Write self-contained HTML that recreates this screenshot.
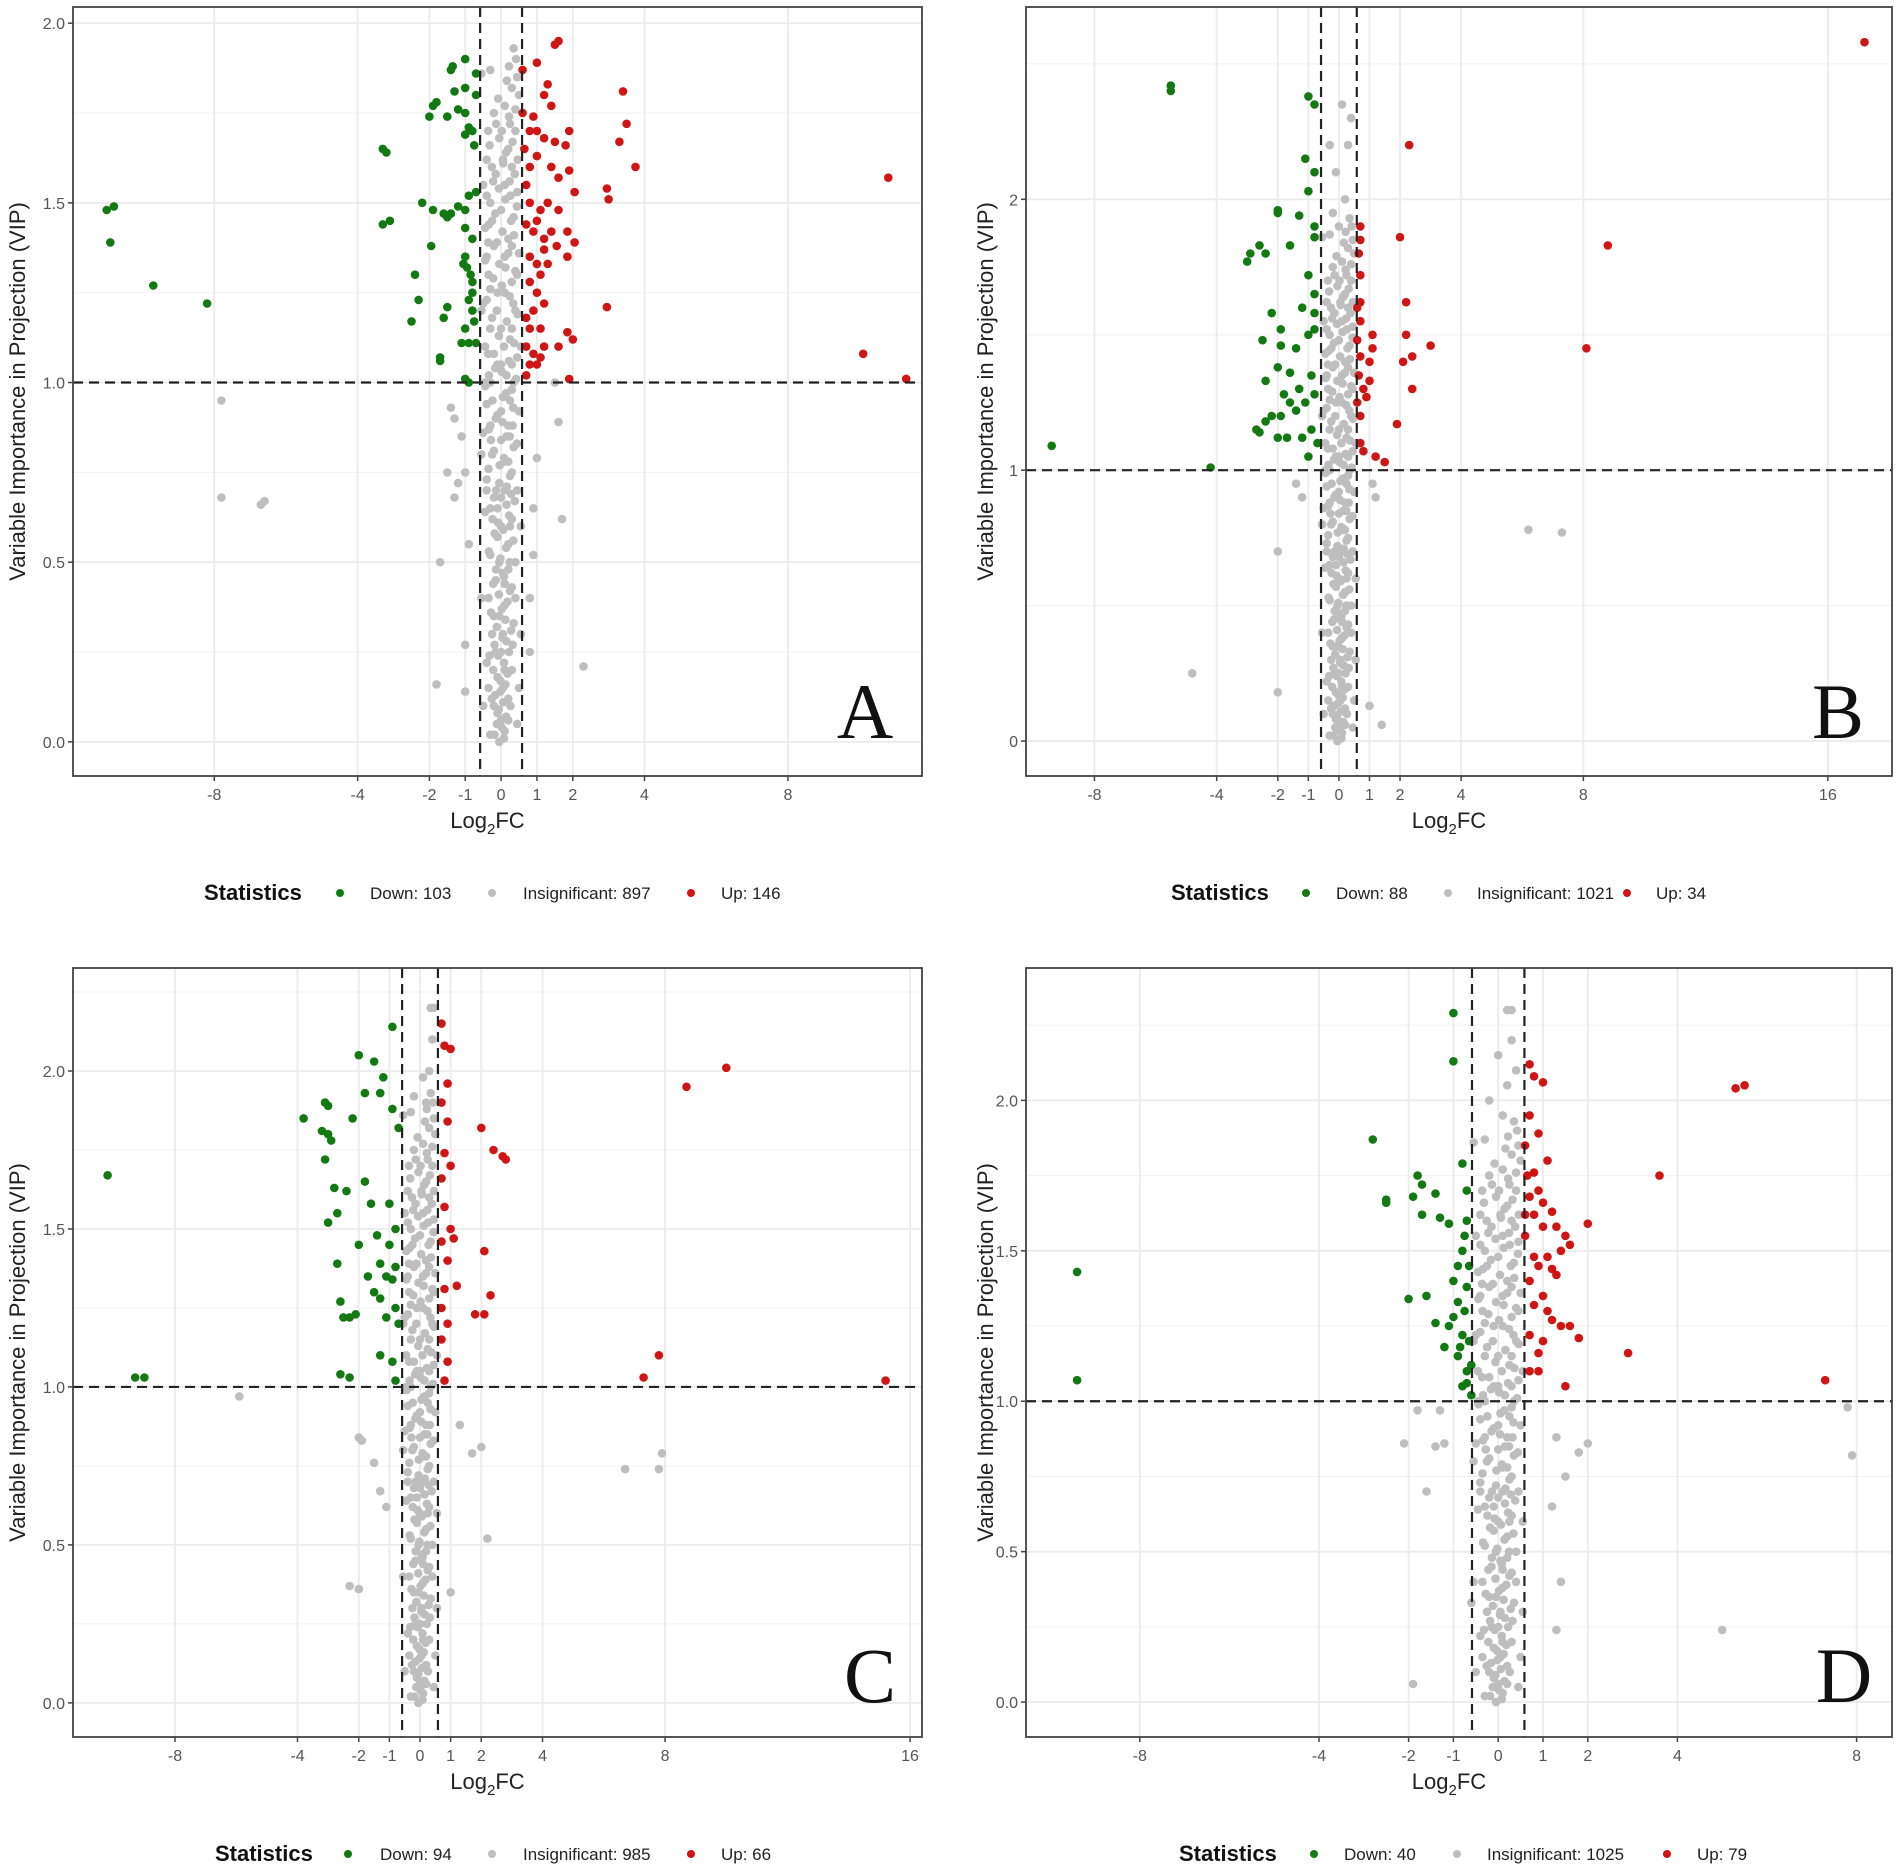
<!DOCTYPE html>
<html><head><meta charset="utf-8">
<style>
html,body{margin:0;padding:0;background:#fff;}
svg{display:block;font-family:"Liberation Sans",Arial,sans-serif;}
</style></head>
<body>
<svg id="fig" width="1902" height="1870" viewBox="0 0 1902 1870" xmlns="http://www.w3.org/2000/svg"></svg>
<script>
// ---- data (Log2FC, VIP) ----
const coreA = [-0.3,0.02,0.1,0.03,0.0,0.06,-0.2,0.1,0.2,0.12,0.05,0.15,-0.1,0.18,0.3,0.2,-0.4,0.22,0.0,0.25,0.15,0.28,-0.25,0.3,0.35,0.33,-0.05,0.35,0.1,0.38,-0.35,0.4,0.25,0.42,-0.15,0.45,0.05,0.47,0.4,0.5,-0.3,0.52,0.2,0.55,-0.1,0.57,0.0,0.6,0.3,0.62,-0.45,0.64,0.15,0.66,-0.2,0.68,0.45,0.7,-0.05,0.72,0.25,0.74,-0.35,0.76,0.1,0.78,-0.25,0.8,0.35,0.82,0.0,0.84,-0.5,0.86,0.2,0.88,-0.15,0.9,0.5,0.92,-0.4,0.94,0.05,0.96,0.3,0.98,-0.3,1.0,0.15,1.02,-0.1,1.05,0.45,1.07,-0.45,1.1,0.25,1.12,0.0,1.15,-0.25,1.18,0.4,1.2,-0.5,1.22,0.1,1.25,0.3,1.28,-0.35,1.3,-0.05,1.33,0.5,1.36,-0.2,1.38,0.2,1.4,-0.45,1.43,0.35,1.46,0.0,1.48,-0.3,1.5,0.45,1.53,0.1,1.55,-0.15,1.58,0.3,1.6,-0.4,1.62,0.2,1.65,-0.05,1.68,0.4,1.7,0.1,1.77,0.5,1.8,0.35,1.93,-0.55,1.86,0.45,1.85,-0.5,1.55,-0.55,1.2,0.55,1.1,-0.55,0.8,0.55,0.6,-0.55,0.4,0.55,0.3,0.5,0.15,-0.5,0.1,0.45,0.05,-0.1,0.08,0.1,0.2,-0.2,0.35,0.2,0.48,-0.1,0.65,0.1,0.7,-0.3,0.88,0.25,0.95,-0.2,1.08,0.1,1.35,-0.25,1.45,0.0,1.05,0.15,0.85,-0.05,0.5,0.05,0.3,-0.15,0.25,0.25,0.6,-0.4,0.7,0.4,0.4,-0.35,0.15,0.35,1.0,-0.1,1.25,0.3,1.15,-0.4,1.35,0.05,1.62,-0.2,1.75,0.25,1.72,-0.45,1.0,0.45,1.3,0.0,0.92,0.2,0.78];
const coreFill = [-0.05,0.0,0.08,0.01,0.02,0.04,-0.12,0.05,0.14,0.07,-0.06,0.09,0.06,0.11,-0.16,0.13,0.12,0.16,-0.02,0.17,0.18,0.19,-0.22,0.2,0.08,0.22,-0.08,0.24,0.22,0.25,-0.18,0.27,0.04,0.29,0.28,0.31,-0.12,0.32,0.12,0.34,-0.28,0.36,0.02,0.37,0.18,0.39,-0.06,0.41,0.3,0.43,-0.22,0.44,0.08,0.46,-0.14,0.48,0.24,0.5,-0.02,0.51,-0.34,0.53,0.14,0.54,0.34,0.56,-0.18,0.58,0.06,0.59,-0.08,0.61,0.22,0.63,-0.3,0.65,0.38,0.67,0.0,0.68,-0.14,0.7,0.16,0.71,-0.4,0.73,0.3,0.75,-0.04,0.77,0.08,0.79,-0.2,0.81,0.44,0.83,0.24,0.85,-0.34,0.87,0.04,0.89,-0.1,0.91,0.34,0.93,-0.24,0.95,0.14,0.97,-0.44,0.99,0.42,1.01,0.02,1.03,-0.16,1.04,0.22,1.06,-0.36,1.08,0.08,1.1,0.36,1.11,-0.06,1.13,-0.3,1.15,0.16,1.17,0.46,1.19,-0.12,1.2,-0.4,1.23,0.24,1.24,0.02,1.27,-0.22,1.29,0.4,1.31,0.12,1.32,-0.44,1.34,0.2,1.36,-0.12,1.39,0.36,1.41,0.04,1.42,-0.34,1.44,0.28,1.45,-0.16,1.47,0.44,1.49,0.12,1.51,-0.4,1.52,-0.06,1.54,0.24,1.56,0.38,1.58,-0.26,1.6,0.06,1.61,0.14,1.64,-0.32,1.66,0.32,1.67,0.02,1.7,-0.14,1.72,0.22,1.74,0.4,1.76,-0.08,1.79,0.3,1.82,0.16,1.84,-0.3,1.87,0.42,1.9,0.22,1.88,-0.18,0.02,0.2,0.06,0.26,0.1,-0.26,0.12,-0.02,0.14,0.32,0.27,-0.32,0.24,0.1,0.44,-0.24,0.62,0.28,0.69,-0.28,0.84,0.32,0.88,-0.34,1.02,0.3,1.05,-0.3,1.26,0.34,1.22,-0.36,1.39,0.3,1.38,-0.22,1.56,0.26,1.52,-0.36,1.7,0.46,1.62];
const coreTopB = [0.0,1.9,0.2,2.0,-0.1,2.1,0.3,2.2,0.4,2.3,-0.3,2.2,0.1,2.35,-0.2,1.95];
const coreTopC = [0.2,1.9,0.3,2.0,0.4,2.1,0.45,2.2,0.35,2.2,-0.2,1.92,0.1,1.98];
const coreTopD = [0.1,1.95,0.2,2.05,0.3,2.2,0.2,2.3,0.3,2.3,-0.2,2.0,0.0,2.15,0.4,2.1];

const greyA = coreA.concat(coreFill,[-7.8,0.95,-7.8,0.68,-6.7,0.66,-6.6,0.67,-1.7,0.5,-1.8,0.16,-1.0,0.14,-1.0,0.27,-1.5,0.75,-1.4,0.93,-1.3,0.9,-1.1,0.85,-1.3,0.68,-1.2,0.72,1.6,0.89,1.5,1.0,1.7,0.62,2.3,0.21,0.9,0.52,0.8,0.25,1.0,0.79,0.9,0.65,0.8,0.4,-0.9,0.55,-1.0,0.75]);
const downA = [-11.0,1.48,-10.8,1.49,-10.9,1.39,-9.7,1.27,-8.2,1.22,-3.3,1.65,-3.2,1.64,-3.3,1.44,-3.1,1.45,-2.2,1.5,-1.9,1.48,-2.4,1.3,-2.3,1.23,-2.5,1.17,-1.95,1.38,-1.7,1.06,-1.7,1.07,-1.5,1.21,-1.6,1.18,-1.1,1.11,-1.0,1.15,-1.0,1.01,-0.9,1.0,-2.0,1.74,-1.9,1.77,-1.8,1.78,-1.3,1.81,-1.0,1.82,-1.2,1.76,-1.0,1.75,-1.4,1.87,-1.35,1.88,-1.0,1.9,-1.5,1.74,-1.0,1.69,-0.9,1.71,-0.8,1.7,-0.75,1.66,-0.7,1.86,-0.7,1.8,-1.5,1.46,-1.4,1.47,-1.2,1.49,-1.0,1.48,-0.9,1.52,-0.7,1.53,-1.0,1.43,-0.8,1.4,-1.0,1.35,-0.95,1.32,-0.85,1.3,-1.05,1.33,-0.8,1.25,-0.8,1.2,-0.75,1.17,-0.9,1.11,-0.7,1.11,-0.8,1.28,-0.9,1.23,-1.6,1.47];
const upA = [0.7,1.02,0.8,1.05,1.0,1.05,1.1,1.07,1.2,1.1,1.6,1.1,1.85,1.14,2.0,1.12,1.9,1.01,2.95,1.21,3.0,1.51,2.95,1.54,3.3,1.67,3.4,1.81,3.5,1.72,3.75,1.6,1.5,1.94,1.6,1.95,1.0,1.89,0.6,1.87,1.2,1.8,1.3,1.83,1.4,1.77,0.9,1.74,0.8,1.7,1.0,1.7,1.2,1.68,1.5,1.67,1.9,1.7,1.8,1.66,2.05,1.53,1.9,1.59,1.6,1.57,1.4,1.6,1.0,1.63,0.8,1.6,0.7,1.55,0.8,1.5,1.1,1.48,1.3,1.5,1.6,1.48,1.0,1.45,0.7,1.44,0.9,1.42,1.2,1.4,1.4,1.42,1.85,1.42,2.05,1.39,1.55,1.38,1.2,1.37,0.8,1.35,1.0,1.33,1.3,1.33,1.85,1.35,1.1,1.3,0.8,1.28,1.0,1.25,1.2,1.22,0.9,1.2,0.7,1.18,0.8,1.15,1.1,1.15,0.7,1.1,0.9,1.08,10.1,1.08,10.8,1.57,11.3,1.01,0.6,1.75,0.65,1.65];

const greyB = coreA.concat(coreFill,coreTopB,[-4.8,0.25,-2.0,0.18,-2.0,0.7,6.2,0.78,7.3,0.77,1.4,0.06,1.0,0.13,-1.2,0.9,-1.4,0.95,1.1,0.95,1.2,0.9]);
const downB = [-5.5,2.42,-5.5,2.4,-9.4,1.09,-4.2,1.01,-1.0,2.38,-0.8,2.35,-1.1,2.15,-0.8,2.1,-1.0,2.03,-2.0,1.96,-2.0,1.95,-1.3,1.94,-0.8,1.9,-2.9,1.8,-2.6,1.83,-3.0,1.77,-2.4,1.8,-1.6,1.83,-0.8,1.86,-1.0,1.72,-0.8,1.65,-1.2,1.6,-0.8,1.58,-2.2,1.58,-1.9,1.52,-2.5,1.48,-1.9,1.46,-1.4,1.45,-1.0,1.5,-0.8,1.52,-2.0,1.38,-1.6,1.36,-2.4,1.33,-1.8,1.28,-1.3,1.3,-0.9,1.35,-1.9,1.2,-2.6,1.14,-2.4,1.18,-2.2,1.2,-1.6,1.25,-1.4,1.22,-1.1,1.25,-0.8,1.28,-2.0,1.12,-1.7,1.12,-1.2,1.12,-0.9,1.15,-0.7,1.1,-1.0,1.05,-2.7,1.15];
const upB = [17.2,2.58,2.3,2.2,8.8,1.83,8.1,1.45,2.0,1.86,2.2,1.62,2.2,1.5,2.1,1.4,2.4,1.42,3.0,1.46,2.4,1.3,1.1,1.5,1.1,1.45,1.0,1.4,1.9,1.17,0.7,1.9,0.7,1.85,0.7,1.72,0.65,1.8,0.7,1.62,0.6,1.6,0.7,1.55,0.6,1.48,0.7,1.42,0.8,1.3,1.0,1.33,0.6,1.25,0.7,1.2,1.5,1.03,1.2,1.05,0.8,1.07,0.7,1.1,0.9,1.27,0.65,1.35];

const greyC = coreA.concat(coreFill,coreTopC,[-5.9,0.97,-2.0,0.84,-1.9,0.83,-2.3,0.37,-2.0,0.36,-1.5,0.76,-1.3,0.67,-1.1,0.62,6.7,0.74,7.9,0.79,7.8,0.74,1.7,0.79,2.0,0.81,2.2,0.52,1.3,0.88,1.0,0.35]);
const downC = [-10.2,1.67,-9.3,1.03,-9.0,1.03,-3.8,1.85,-3.1,1.9,-3.0,1.89,-3.2,1.81,-3.0,1.8,-2.9,1.78,-3.1,1.72,-2.8,1.63,-2.7,1.55,-3.0,1.52,-2.4,1.62,-2.0,2.05,-1.5,2.03,-0.9,2.14,-1.2,1.98,-1.8,1.93,-1.3,1.93,-0.9,1.88,-0.7,1.82,-2.2,1.85,-1.8,1.65,-1.6,1.58,-1.0,1.58,-1.4,1.48,-1.0,1.45,-0.8,1.5,-0.8,1.38,-0.9,1.34,-1.3,1.39,-2.7,1.39,-2.6,1.27,-2.5,1.22,-2.3,1.22,-2.1,1.23,-1.7,1.35,-1.5,1.3,-1.3,1.28,-1.1,1.22,-0.8,1.25,-0.7,1.2,-1.3,1.1,-0.9,1.08,-2.6,1.04,-2.3,1.03,-0.8,1.02,-1.1,1.35,-2.0,1.45];
const upC = [10.0,2.01,8.7,1.95,15.2,1.02,7.8,1.1,7.3,1.03,2.0,1.82,2.4,1.75,2.7,1.73,2.8,1.72,2.1,1.43,2.3,1.29,1.8,1.23,2.1,1.23,0.7,2.15,0.8,2.08,1.0,2.07,0.9,1.96,0.7,1.9,0.9,1.84,0.8,1.74,1.0,1.7,0.7,1.66,0.8,1.57,1.0,1.5,0.7,1.46,0.9,1.4,1.2,1.32,0.8,1.31,0.7,1.25,0.9,1.2,0.7,1.15,0.9,1.08,0.8,1.02,1.1,1.47];

const greyD = coreA.concat(coreFill,coreTopD,[-2.1,0.86,-1.4,0.85,-1.6,0.7,-1.2,0.86,-1.8,0.97,-1.3,0.97,-1.9,0.06,-0.6,0.33,1.3,0.24,1.8,0.83,2.0,0.86,1.3,0.88,1.5,0.75,1.2,0.65,1.4,0.4,5.0,0.24,7.9,0.82,7.8,0.98]);
const downD = [-9.4,1.43,-9.4,1.07,-2.8,1.87,-2.5,1.67,-2.5,1.66,-1.0,2.29,-1.0,2.13,-0.8,1.79,-1.8,1.75,-1.7,1.72,-1.9,1.68,-1.7,1.62,-1.4,1.69,-1.3,1.61,-1.1,1.59,-0.7,1.6,-0.8,1.5,-0.9,1.45,-2.0,1.34,-1.6,1.35,-1.4,1.26,-1.0,1.28,-1.2,1.18,-0.9,1.15,-0.7,1.1,-0.8,1.05,-0.65,1.2,-0.7,1.38,-0.75,1.3,-0.8,1.22,-0.6,1.02,-0.7,1.7,-0.9,1.33,-1.1,1.25,-0.65,1.45,-1.0,1.4,-0.6,1.12,-0.75,1.55,-0.85,1.18,-0.7,1.06];
const upD = [5.3,2.04,5.5,2.05,3.6,1.75,7.3,1.07,2.9,1.16,2.0,1.59,1.8,1.21,1.6,1.25,1.4,1.25,1.2,1.27,1.0,1.2,0.9,1.1,1.5,1.05,0.7,2.12,0.8,2.08,1.0,2.06,0.7,1.95,0.9,1.89,1.1,1.8,0.8,1.76,0.9,1.7,0.7,1.68,1.0,1.66,1.2,1.63,1.3,1.58,1.5,1.55,1.6,1.52,1.4,1.5,1.1,1.48,0.8,1.48,0.9,1.45,1.2,1.44,0.7,1.4,1.0,1.35,0.8,1.32,1.1,1.3,0.7,1.22,0.9,1.16,0.7,1.1,1.3,1.42,0.6,1.55,0.6,1.62,0.65,1.75,0.6,1.85,1.0,1.58,0.8,1.62];

const xTicksA = [-8,-4,-2,-1,0,1,2,4,8];
const xTicksB = [-8,-4,-2,-1,0,1,2,4,8,16];
const xTicksC = [-8,-4,-2,-1,0,1,2,4,8,16];
const xTicksD = [-8,-4,-2,-1,0,1,2,4,8];
const yTicksA = ["0.0","0.5","1.0","1.5","2.0"];
const yTicksB = ["0","1","2"];
const yTicksC = ["0.0","0.5","1.0","1.5","2.0"];
const yTicksD = ["0.0","0.5","1.0","1.5","2.0"];
const legendA = ["Down: 103","Insignificant: 897","Up: 146"];
const legendB = ["Down: 88","Insignificant: 1021","Up: 34"];
const legendC = ["Down: 94","Insignificant: 985","Up: 66"];
const legendD = ["Down: 40","Insignificant: 1025","Up: 79"];
const fcCut = 0.585, vipCut = 1.0;

// ---- layout ----
const NS = "http://www.w3.org/2000/svg";
const svg = document.getElementById('fig');
function mk(tag, attrs, parent){ const e=document.createElementNS(NS,tag); for(const k in attrs) e.setAttribute(k,attrs[k]); (parent||svg).appendChild(e); return e; }

const panels = [
 {id:'a', L:73, R:922, T:7, B:776, xd:[-11.94,11.74], yd:[-0.095,2.045], grey:greyA, down:downA, up:upA, xt:xTicksA, yt:yTicksA, leg:legendA, letter:'A', lx:865, ly:738, legY:892, legX:[204,340,370,492,523,691,721], ytx:17},
 {id:'b', L:1026, R:1892, T:7, B:776, xd:[-10.24,18.1], yd:[-0.129,2.71], grey:greyB, down:downB, up:upB, xt:xTicksB, yt:yTicksB, leg:legendB, letter:'B', lx:1838, ly:738, legY:892, legX:[1171,1306,1336,1448,1477,1627,1656], ytx:985},
 {id:'c', L:73, R:922, T:968, B:1737, xd:[-11.33,16.39], yd:[-0.108,2.326], grey:greyC, down:downC, up:upC, xt:xTicksC, yt:yTicksC, leg:legendC, letter:'C', lx:870, ly:1702, legY:1853, legX:[215,348,380,492,523,691,721], ytx:17},
 {id:'d', L:1026, R:1892, T:968, B:1737, xd:[-10.54,8.79], yd:[-0.116,2.44], grey:greyD, down:downD, up:upD, xt:xTicksD, yt:yTicksD, leg:legendD, letter:'D', lx:1844, ly:1702, legY:1853, legX:[1179,1314,1344,1457,1487,1667,1697], ytx:985}
];

panels.forEach(p=>{
  const sx = v => p.L + (v-p.xd[0])/(p.xd[1]-p.xd[0])*(p.R-p.L);
  const sy = v => p.B - (v-p.yd[0])/(p.yd[1]-p.yd[0])*(p.B-p.T);
  const g = mk('g',{});
  
  
  const clipId='clip'+p.id;
  const cp = mk('clipPath',{id:clipId},g); mk('rect',{x:p.L,y:p.T,width:p.R-p.L,height:p.B-p.T},cp);
  const grid = mk('g',{},g);
  
  
  const yv = p.yt.map(Number);
  for(let i=0;i<yv.length-1;i++){ const m=(yv[i]+yv[i+1])/2; mk('line',{x1:p.L,x2:p.R,y1:sy(m),y2:sy(m),stroke:'#f3f3f3','stroke-width':1.2},grid); }
  if(sy(yv[yv.length-1]+(yv[1]-yv[0])/2) > p.T) { const m=yv[yv.length-1]+(yv[1]-yv[0])/2; mk('line',{x1:p.L,x2:p.R,y1:sy(m),y2:sy(m),stroke:'#f3f3f3','stroke-width':1.2},grid); }
  yv.forEach(v=>mk('line',{x1:p.L,x2:p.R,y1:sy(v),y2:sy(v),stroke:'#ebebeb','stroke-width':1.8},grid));
  p.xt.forEach(v=>mk('line',{x1:sx(v),x2:sx(v),y1:p.T,y2:p.B,stroke:'#ebebeb','stroke-width':1.8},grid));

  const pts = mk('g',{'clip-path':'url(#'+clipId+')'},g);
  const draw=(arr,col,name)=>{
    const sg = mk('g',{fill:col},pts);
    
    
    for(let i=0;i<arr.length;i+=2){
      const c = mk('circle',{cx:sx(arr[i]).toFixed(1),cy:sy(arr[i+1]).toFixed(1),r:4.3},sg);
      
      
    }
  };
  draw(p.grey,'#bebebe','insignificant');
  draw(p.down,'#137a13','down');
  draw(p.up,'#d01515','up');

  const th = mk('g',{stroke:'#222','stroke-width':2.2,'stroke-dasharray':'10,6',fill:'none'},g);
  
  
  mk('line',{x1:p.L,x2:p.R,y1:sy(vipCut),y2:sy(vipCut)},th);
  mk('line',{x1:sx(-fcCut),x2:sx(-fcCut),y1:p.T,y2:p.B},th);
  mk('line',{x1:sx(fcCut),x2:sx(fcCut),y1:p.T,y2:p.B},th);

  const bd = mk('rect',{x:p.L,y:p.T,width:p.R-p.L,height:p.B-p.T,fill:'none',stroke:'#444','stroke-width':1.8},g);
  
  

  p.xt.forEach(v=>{
    mk('line',{x1:sx(v),x2:sx(v),y1:p.B,y2:p.B+5,stroke:'#444','stroke-width':1.5},g);
    const t = mk('text',{x:sx(v),y:p.B+24,'text-anchor':'middle','font-size':16,fill:'#555'},g);
    t.textContent = v;  
  });
  p.yt.forEach(s=>{
    const v=Number(s);
    mk('line',{x1:p.L-5,x2:p.L,y1:sy(v),y2:sy(v),stroke:'#444','stroke-width':1.5},g);
    const t = mk('text',{x:p.L-8,y:sy(v)+6,'text-anchor':'end','font-size':16,fill:'#555'},g);
    t.textContent = s;  
  });
  const xt = mk('text',{x:(p.L+p.R)/2 - 10,y:p.B+52,'text-anchor':'middle','font-size':22,fill:'#222'},g);
  xt.innerHTML = 'Log<tspan font-size="15" dy="6">2</tspan><tspan dy="-6">FC</tspan>';
   
  const cy=(p.T+p.B)/2;
  const yt = mk('text',{x:p.ytx+8,y:cy,'text-anchor':'middle','font-size':22,fill:'#222',transform:'rotate(-90 '+(p.ytx+8)+' '+cy+')'},g);
  yt.textContent='Variable Importance in Projection (VIP)';
   
  const lt = mk('text',{x:p.lx,y:p.ly,'text-anchor':'middle','font-size':78,fill:'#111','font-family':'"Liberation Serif",serif'},g);
  lt.textContent=p.letter;  
  const lg = mk('g',{},g);
   
  const st = mk('text',{x:p.legX[0],y:p.legY+8,'font-size':22,'font-weight':'bold',fill:'#111'},lg);
  st.textContent='Statistics';  
  const cols=['#137a13','#bebebe','#d01515'];
  for(let i=0;i<3;i++){
    const c=mk('circle',{cx:p.legX[1+2*i],cy:p.legY+1,r:4,fill:cols[i]},lg);
     
    const t=mk('text',{x:p.legX[2+2*i],y:p.legY+7,'font-size':17,fill:'#222'},lg);
    t.textContent=p.leg[i];  
  }
});
</script>
</body></html>
